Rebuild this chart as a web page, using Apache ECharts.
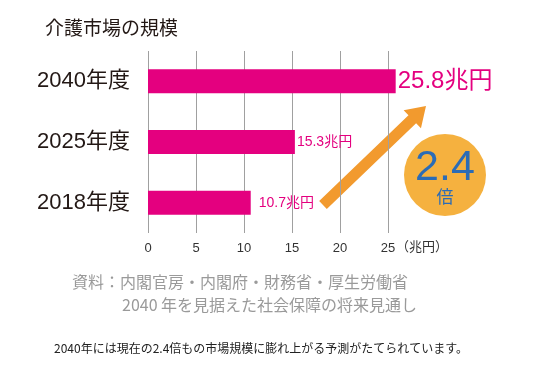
<!DOCTYPE html>
<html>
<head>
<meta charset="utf-8">
<script src="https://cdn.jsdelivr.net/npm/echarts@6/dist/echarts.min.js"></script>
<style>
html,body{margin:0;padding:0;background:#fff;}
#chart{width:539px;height:367px;}
</style>
</head>
<body>
<div id="chart"></div>
<script>
// ---- data ----
const categories = ['2018年度', '2025年度', '2040年度'];
const values = [10.7, 15.3, 25.8];
const xTicks = [0, 5, 10, 15, 20, 25];
const unitLabel = '（兆円）';
const titleText = '介護市場の規模';
const ratioText = '2.4';
const ratioUnit = '倍';
const sourceLine1 = '資料：内閣官房・内閣府・財務省・厚生労働省';
const sourceLine2 = '2040 年を見据えた社会保障の将来見通し';
const captionText = '2040年には現在の2.4倍もの市場規模に膨れ上がる予測がたてられています。';

// ---- styles ----
const FONT = '"Liberation Sans", "Noto Sans CJK JP", sans-serif';
const CJK = '"Noto Sans CJK JP", sans-serif';
const PINK = '#e4007f';
const labelSizes = [14, 14, 24];
const labelDist = [8, 2, 2];

const chart = echarts.init(document.getElementById('chart'), null, {renderer: 'canvas'});

function arrowPoints(tx, ty, px, py, hw, headLen, headHw) {
  const dx = px - tx, dy = py - ty, L = Math.hypot(dx, dy);
  const ux = dx / L, uy = dy / L, nx = -uy, ny = ux;
  const bx = px - ux * headLen, by = py - uy * headLen;
  return [
    [tx + nx * hw, ty + ny * hw],
    [bx + nx * hw, by + ny * hw],
    [bx + nx * headHw, by + ny * headHw],
    [px, py],
    [bx - nx * headHw, by - ny * headHw],
    [bx - nx * hw, by - ny * hw],
    [tx - nx * hw, ty - ny * hw]
  ];
}

chart.setOption({
  animation: false,
  backgroundColor: '#fff',
  textStyle: {fontFamily: FONT},
  title: {
    text: titleText, left: 40, top: 13,
    textStyle: {fontFamily: CJK, fontSize: 19, fontWeight: 'normal', color: '#231815'}
  },
  grid: {left: 148, right: 151, top: 51, bottom: 134, containLabel: false},
  xAxis: {
    type: 'value', min: xTicks[0], max: xTicks[xTicks.length - 1], interval: xTicks[1] - xTicks[0],
    axisLine: {show: false}, axisTick: {show: false},
    splitLine: {show: true, lineStyle: {color: '#a0a0a0', width: 1}},
    axisLabel: {margin: 9, fontSize: 13, color: '#333', fontFamily: FONT}
  },
  yAxis: {
    type: 'category', data: categories,
    axisLine: {show: false}, axisTick: {show: false},
    axisLabel: {margin: 18, fontSize: 22, color: '#231815', fontFamily: FONT}
  },
  series: [{
    type: 'bar', clip: false, barWidth: 24,
    data: values.map((v, i) => ({
      value: v,
      label: {
        show: true, position: 'right', distance: labelDist[i],
        fontSize: labelSizes[i], color: PINK, fontFamily: FONT,
        formatter: p => p.value + '兆円'
      }
    })),
    itemStyle: {color: PINK}
  }],
  graphic: [
    {type: 'text', left: 396, top: 240,
     style: {text: unitLabel, fontSize: 13, fill: '#333', fontFamily: CJK}},
    {type: 'polygon', shape: {points: arrowPoints(323, 205, 426, 106, 5.5, 19, 12.5)},
     style: {fill: '#f29a2e'}},
    {type: 'circle', shape: {cx: 445, cy: 175, r: 41}, style: {fill: '#f5b13f'}},
    {type: 'text', x: 445, y: 168,
     style: {text: ratioText, fontSize: 43, fill: '#2b6cb6', fontFamily: FONT, align: 'center', verticalAlign: 'middle'}},
    {type: 'text', x: 445, y: 197,
     style: {text: ratioUnit, fontSize: 17, fill: '#2b6cb6', fontFamily: CJK, align: 'center', verticalAlign: 'middle'}},
    {type: 'text', left: 72, top: 274,
     style: {text: sourceLine1, fontSize: 16, fill: '#9a9a9a', fontFamily: CJK}},
    {type: 'text', left: 122, top: 297,
     style: {text: sourceLine2, fontSize: 16, fill: '#9a9a9a', fontFamily: CJK}},
    {type: 'text', left: 54, top: 342,
     style: {text: captionText, fontSize: 12, fill: '#222', fontFamily: CJK}}
  ]
});
</script>
</body>
</html>
